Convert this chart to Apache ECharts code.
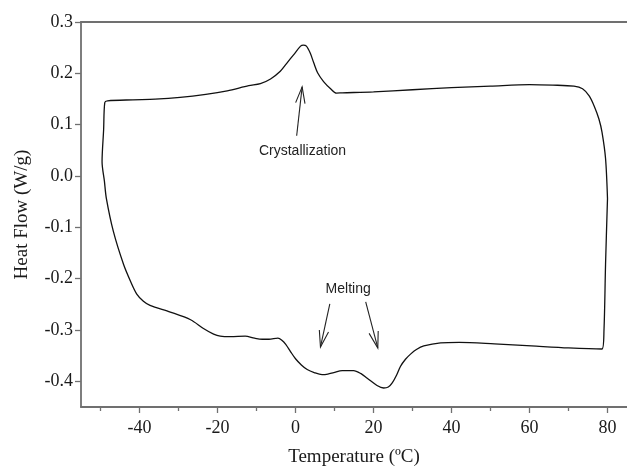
<!DOCTYPE html>
<html>
<head>
<meta charset="utf-8">
<title>DSC heat flow</title>
<script src="https://cdn.jsdelivr.net/npm/echarts@6/dist/echarts.min.js"></script>
<style>
  html, body { margin: 0; padding: 0; background: #fff; }
  #chart { width: 627px; height: 472px; }
</style>
</head>
<body>
<div id="chart"></div>
<script>
// Cooling scan (upper branch), from 80 °C down to -50 °C
const coolTemp = [80.0, 79.5, 78.6, 77.8, 76.6, 75.3, 73.6, 71.4, 66.0, 60.0, 50.0, 40.0, 30.0, 20.0, 12.0, 10.5, 9.0, 7.2, 5.7, 4.7, 3.8, 2.8, 2.0, 1.3, -0.5, -2.2, -3.9, -6.4, -9.0, -12.0, -17.5, -23.0, -29.6, -36.0, -41.7, -48.2, -48.9];
const coolFlow = [-0.044, 0.034, 0.085, 0.111, 0.136, 0.156, 0.170, 0.175, 0.177, 0.178, 0.175, 0.172, 0.168, 0.164, 0.162, 0.1615, 0.170, 0.184, 0.2006, 0.220, 0.239, 0.253, 0.255, 0.253, 0.236, 0.220, 0.204, 0.189, 0.180, 0.176, 0.166, 0.159, 0.153, 0.1496, 0.1484, 0.1464, 0.1432];

// Heating scan (lower branch), from -50 °C back up to 80 °C
const heatTemp = [-49.2, -49.6, -49.0, -48.5, -46.7, -44.1, -42.2, -40.7, -39.0, -37.3, -32.1, -26.9, -23.6, -21.0, -19.3, -16.6, -12.9, -10.5, -8.5, -6.8, -4.5, -3.5, -2.5, -1.2, 0.0, 1.5, 3.0, 4.8, 6.8, 8.3, 9.8, 12.0, 14.9, 16.8, 18.4, 20.9, 22.6, 23.8, 24.8, 25.9, 26.9, 28.2, 29.5, 31.0, 32.9, 37.2, 42.0, 51.0, 60.5, 70.0, 78.6, 79.1, 79.5, 80.0];
const heatFlow = [0.090, 0.028, -0.010, -0.0435, -0.108, -0.172, -0.207, -0.230, -0.244, -0.252, -0.265, -0.280, -0.297, -0.308, -0.312, -0.313, -0.312, -0.316, -0.318, -0.318, -0.316, -0.320, -0.328, -0.343, -0.356, -0.368, -0.377, -0.383, -0.387, -0.386, -0.383, -0.379, -0.379, -0.385, -0.394, -0.408, -0.413, -0.411, -0.403, -0.388, -0.371, -0.357, -0.347, -0.338, -0.331, -0.325, -0.324, -0.327, -0.331, -0.335, -0.337, -0.300, -0.172, -0.044];

// Axis ticks
const xMajorTicks = [-40, -20, 0, 20, 40, 60, 80];
const xMinorTicks = [-50, -30, -10, 10, 30, 50, 70];
const yTicks = [-0.4, -0.3, -0.2, -0.1, 0.0, 0.1, 0.2, 0.3];

// Annotations: text anchors and arrows (tail -> tip)
const noteTexts = ['Crystallization', 'Melting'];
const notePos = [[1.8, 0.048], [13.5, -0.220]];
const arrowTail = [[0.3, 0.0785], [8.8, -0.249], [18.0, -0.245]];
const arrowTip = [[1.7, 0.1736], [6.4, -0.333], [21.1, -0.335]];

const loop = coolTemp.map((t, i) => [t, coolFlow[i]])
  .concat(heatTemp.map((t, i) => [t, heatFlow[i]]));

const serif = 'Liberation Serif';
const axisGrey = '#707070';

const chart = echarts.init(document.getElementById('chart'), null, { renderer: 'canvas' });

chart.setOption({
  animation: false,
  backgroundColor: '#ffffff',
  grid: { left: 81, right: 0, top: 22, bottom: 61, containLabel: false },
  xAxis: [
    {
      type: 'value', min: -55, max: 85, position: 'bottom',
      name: 'Temperature (ºC)', nameLocation: 'middle', nameGap: 41,
      nameTextStyle: { fontFamily: serif, fontSize: 19, color: '#1a1a1a' },
      axisLine: { show: true, onZero: false, lineStyle: { color: axisGrey, width: 1.8 } },
      axisTick: { show: true, inside: false, length: 6, customValues: xMajorTicks, lineStyle: { color: axisGrey, width: 1.3 } },
      axisLabel: { customValues: xMajorTicks, margin: 12, fontFamily: serif, fontSize: 18, color: '#1a1a1a' },
      splitLine: { show: false }
    },
    {
      // minor ticks on the bottom axis
      type: 'value', min: -55, max: 85, position: 'bottom', gridIndex: 0,
      axisLine: { show: false, onZero: false },
      axisTick: { show: true, inside: false, length: 4, customValues: xMinorTicks, lineStyle: { color: axisGrey, width: 1.3 } },
      axisLabel: { show: false },
      splitLine: { show: false }
    },
    {
      // top frame line
      type: 'value', min: -55, max: 85, position: 'top', gridIndex: 0,
      axisLine: { show: true, onZero: false, lineStyle: { color: axisGrey, width: 1.8 } },
      axisTick: { show: false },
      axisLabel: { show: false },
      splitLine: { show: false }
    }
  ],
  yAxis: {
    type: 'value', min: -0.45, max: 0.3,
    name: 'Heat Flow (W/g)', nameLocation: 'middle', nameGap: 49, nameRotate: 90,
    nameTextStyle: { fontFamily: serif, fontSize: 19, color: '#1a1a1a' },
    axisLine: { show: true, onZero: false, lineStyle: { color: axisGrey, width: 1.8 } },
    axisTick: { show: true, inside: false, length: 6, customValues: yTicks, lineStyle: { color: axisGrey, width: 1.3 } },
    axisLabel: {
      customValues: yTicks, margin: 8, fontFamily: serif, fontSize: 18, color: '#1a1a1a',
      formatter: v => v.toFixed(1)
    },
    splitLine: { show: false }
  },
  series: [
    {
      type: 'line',
      xAxisIndex: 0,
      data: loop,
      showSymbol: false,
      smooth: 0.3,
      clip: false,
      lineStyle: { color: '#111111', width: 1.3 },
      silent: true
    },
    {
      // annotation arrows with open heads
      type: 'custom',
      xAxisIndex: 0,
      data: arrowTail.map((p, i) => [p[0], p[1], arrowTip[i][0], arrowTip[i][1]]),
      silent: true,
      clip: false,
      renderItem: function (params, api) {
        const a = api.coord([api.value(0), api.value(1)]);
        const b = api.coord([api.value(2), api.value(3)]);
        const ang = Math.atan2(a[1] - b[1], a[0] - b[0]);
        const len = 17, spread = 0.28;
        const h1 = [b[0] + len * Math.cos(ang + spread), b[1] + len * Math.sin(ang + spread)];
        const h2 = [b[0] + len * Math.cos(ang - spread), b[1] + len * Math.sin(ang - spread)];
        const stroke = { stroke: '#222222', lineWidth: 1.1, fill: null };
        return {
          type: 'group',
          children: [
            { type: 'line', shape: { x1: a[0], y1: a[1], x2: b[0], y2: b[1] }, style: stroke },
            { type: 'polyline', shape: { points: [h1, b, h2] }, style: stroke }
          ]
        };
      }
    },
    {
      // annotation labels
      type: 'custom',
      xAxisIndex: 0,
      data: notePos.map((p, i) => [p[0], p[1], i]),
      silent: true,
      clip: false,
      renderItem: function (params, api) {
        const p = api.coord([api.value(0), api.value(1)]);
        return {
          type: 'text',
          x: p[0], y: p[1],
          style: {
            text: noteTexts[api.value(2)],
            font: '14px "Liberation Sans", Arial, sans-serif',
            fill: '#222222',
            align: 'center',
            verticalAlign: 'middle'
          }
        };
      }
    }
  ]
});
</script>
</body>
</html>
